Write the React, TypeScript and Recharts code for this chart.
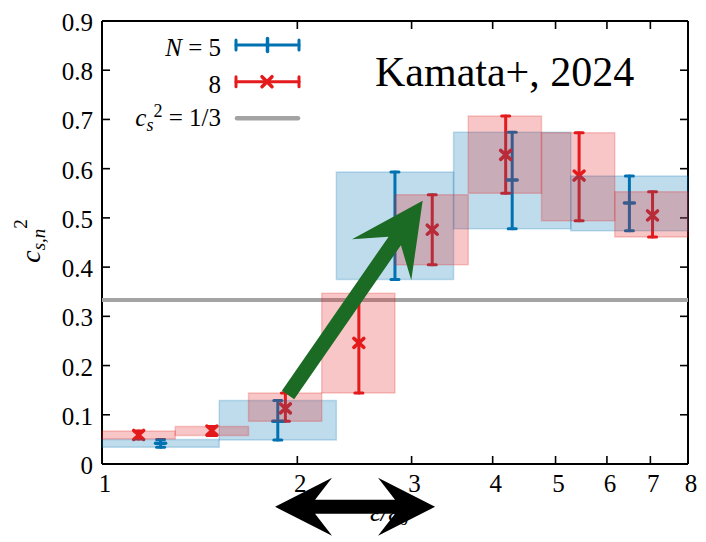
import React from 'react';
import {
  ComposedChart,
  XAxis,
  YAxis,
  Scatter,
  ErrorBar,
  ReferenceArea,
  ReferenceLine,
} from 'recharts';

// ---------- data ----------
const xTicks = [1, 2, 3, 4, 5, 6, 7, 8];
const yTicks = [0, 0.1, 0.2, 0.3, 0.4, 0.5, 0.6, 0.7, 0.8, 0.9];

// N = 5 (blue)
const blueEdges = [1, 1.516, 2.297, 3.482, 5.278, 8];
const blueX = [1.231, 1.866, 2.828, 4.287, 6.498];
const blueY = [0.042, 0.087, 0.485, 0.577, 0.53];
const blueLo = [0.034, 0.049, 0.375, 0.478, 0.474];
const blueHi = [0.05, 0.129, 0.593, 0.674, 0.585];

// N = 8 (red)
const redEdges = [1, 1.297, 1.682, 2.181, 2.828, 3.668, 4.757, 6.169, 8];
const redX = [1.139, 1.477, 1.917, 2.488, 3.228, 4.189, 5.436, 7.054];
const redY = [0.059, 0.068, 0.113, 0.246, 0.476, 0.628, 0.586, 0.505];
const redLo = [0.051, 0.058, 0.087, 0.144, 0.405, 0.55, 0.494, 0.461];
const redHi = [0.067, 0.076, 0.144, 0.347, 0.547, 0.707, 0.673, 0.553];

const conformal = 1 / 3;

// annotation arrows (data coordinates)
const greenArrow = [
  { x: 1.935, y: 0.14 },
  { x: 3.12, y: 0.535 },
];
const rangeArrow = [
  { x: 1.848, y: -0.087 },
  { x: 3.26, y: -0.087 },
];

// ---------- styling ----------
const BLUE = '#0072b2';
const RED = '#e41a1c';
const GRAY = '#a3a3a3';
const GREEN = '#1b6b24';
const FONT = "'Liberation Serif', 'Times New Roman', Times, serif";

const blueData = blueX.map((x, i) => ({
  x,
  y: blueY[i],
  err: [blueY[i] - blueLo[i], blueHi[i] - blueY[i]],
}));
const redData = redX.map((x, i) => ({
  x,
  y: redY[i],
  err: [redY[i] - redLo[i], redHi[i] - redY[i]],
}));

function pt(x1: number, y1: number, ux: number, uy: number, a: number, b: number) {
  const nx = -uy;
  const ny = ux;
  return `${x1 + ux * a + nx * b},${y1 + uy * a + ny * b}`;
}

const GreenArrowShape = (p: any) => {
  const { x1, y1, x2, y2 } = p;
  const dx = x2 - x1;
  const dy = y2 - y1;
  const L = Math.hypot(dx, dy);
  const ux = dx / L;
  const uy = dy / L;
  const hw = 7.5;
  const headLen = 72;
  const joinLen = 49;
  const headHw = 36;
  const pts = [
    pt(x1, y1, ux, uy, 0, hw),
    pt(x1, y1, ux, uy, L - joinLen, hw),
    pt(x1, y1, ux, uy, L - headLen, headHw),
    pt(x1, y1, ux, uy, L, 0),
    pt(x1, y1, ux, uy, L - headLen, -headHw),
    pt(x1, y1, ux, uy, L - joinLen, -hw),
    pt(x1, y1, ux, uy, 0, -hw),
  ].join(' ');
  return <polygon points={pts} fill={GREEN} stroke="none" />;
};

const DoubleArrowShape = (p: any) => {
  const { x1, y1, x2, y2 } = p;
  const dx = x2 - x1;
  const dy = y2 - y1;
  const L = Math.hypot(dx, dy);
  const ux = dx / L;
  const uy = dy / L;
  const hw = 7;
  const headLen = 57;
  const joinLen = 40;
  const headHw = 29;
  const pts = [
    pt(x1, y1, ux, uy, 0, 0),
    pt(x1, y1, ux, uy, headLen, headHw),
    pt(x1, y1, ux, uy, joinLen, hw),
    pt(x1, y1, ux, uy, L - joinLen, hw),
    pt(x1, y1, ux, uy, L - headLen, headHw),
    pt(x1, y1, ux, uy, L, 0),
    pt(x1, y1, ux, uy, L - headLen, -headHw),
    pt(x1, y1, ux, uy, L - joinLen, -hw),
    pt(x1, y1, ux, uy, joinLen, -hw),
    pt(x1, y1, ux, uy, headLen, -headHw),
  ].join(' ');
  return <polygon points={pts} fill="#000" stroke="none" />;
};

const BlueMarker = (p: any) => {
  const { cx, cy } = p;
  return (
    <line x1={cx - 5} y1={cy} x2={cx + 5} y2={cy} stroke={BLUE} strokeWidth={3.5} strokeLinecap="round" />
  );
};

const RedMarker = (p: any) => {
  const { cx, cy } = p;
  return (
    <g stroke={RED} strokeWidth={3.5} strokeLinecap="round">
      <line x1={cx - 5} y1={cy - 4.5} x2={cx + 5} y2={cy + 4.5} />
      <line x1={cx - 5} y1={cy + 4.5} x2={cx + 5} y2={cy - 4.5} />
    </g>
  );
};

const XTick = (p: any) => {
  const { x, y, payload } = p;
  return (
    <text x={x + 3} y={y + 16} textAnchor="middle" fontSize={25} fontFamily={FONT} fill="#000">
      {payload.value}
    </text>
  );
};

const YTick = (p: any) => {
  const { x, y, payload } = p;
  const v = payload.value;
  return (
    <text x={x} y={y + 10} textAnchor="end" fontSize={25} fontFamily={FONT} fill="#000">
      {v === 0 ? '0' : v.toFixed(1)}
    </text>
  );
};

const axisLineStyle = { stroke: '#000', strokeWidth: 2 };
const tickLineStyle = { stroke: '#000', strokeWidth: 1.6 };

const Underlay = () => (
  <svg width={706} height={542} style={{ position: 'absolute', left: 0, top: 0 }} fontFamily={FONT}>
    {/* title */}
    <text x={375} y={86} fontSize={42} fill="#000">
      Kamata+, 2024
    </text>
    {/* legend */}
    <text x={221} y={56} textAnchor="end" fontSize={25} fill="#000">
      <tspan fontStyle="italic">N</tspan>
      <tspan>{' = 5'}</tspan>
    </text>
    <g stroke={BLUE} strokeWidth={3} strokeLinecap="round">
      <line x1={236} y1={45} x2={299} y2={45} />
      <line x1={236} y1={40} x2={236} y2={50} />
      <line x1={299} y1={40} x2={299} y2={50} />
      <line x1={267.5} y1={38.5} x2={267.5} y2={51.5} strokeWidth={3.5} />
    </g>
    <text x={221} y={93} textAnchor="end" fontSize={25} fill="#000">
      8
    </text>
    <g stroke={RED} strokeWidth={3} strokeLinecap="round">
      <line x1={236} y1={81.7} x2={299} y2={81.7} />
      <line x1={236} y1={76.7} x2={236} y2={86.7} />
      <line x1={299} y1={76.7} x2={299} y2={86.7} />
      <line x1={262} y1={76.7} x2={272} y2={86.7} strokeWidth={3.5} />
      <line x1={262} y1={86.7} x2={272} y2={76.7} strokeWidth={3.5} />
    </g>
    <text x={221} y={126} textAnchor="end" fontSize={25} fill="#000">
      <tspan fontStyle="italic">c</tspan>
      <tspan fontStyle="italic" fontSize={18} dy={5}>s</tspan>
      <tspan fontSize={18} dy={-14}>2</tspan>
      <tspan dy={9}>{' = 1/3'}</tspan>
    </text>
    <line x1={237} y1={118.3} x2={298} y2={118.3} stroke={GRAY} strokeWidth={4.5} strokeLinecap="round" />
    {/* y label */}
    <text
      x={40}
      y={241}
      transform="rotate(-90 40 241)"
      textAnchor="middle"
      fontSize={28}
      fill="#000"
    >
      <tspan fontStyle="italic">c</tspan>
      <tspan fontStyle="italic" fontSize={19} dy={5}>s,n</tspan>
      <tspan fontSize={19} dy={-18}>2</tspan>
    </text>
    {/* x label */}
    <text x={370} y={521} fontSize={27} fill="#000">
      <tspan fontStyle="italic">ε/ε</tspan>
      <tspan fontSize={19} dy={4}>0</tspan>
    </text>
  </svg>
);

export default function App() {
  return (
    <div style={{ position: 'absolute', left: 0, top: 0, width: 706, height: 542, background: '#fff' }}>
      <Underlay />
      <div style={{ position: 'absolute', left: 0, top: 0 }}>
        <ComposedChart width={706} height={542} margin={{ top: 20, right: 17, bottom: 38, left: 42 }}>
          <XAxis
            xAxisId={0}
            dataKey="x"
            type="number"
            scale="log"
            domain={[1, 8]}
            allowDataOverflow
            ticks={xTicks}
            interval={0}
            height={40}
            tickSize={-8}
            tickMargin={20}
            axisLine={axisLineStyle}
            tickLine={tickLineStyle}
            tick={<XTick />}
          />
          <XAxis
            xAxisId="top"
            orientation="top"
            dataKey="x"
            type="number"
            scale="log"
            domain={[1, 8]}
            allowDataOverflow
            ticks={xTicks}
            interval={0}
            height={1}
            tickSize={-8}
            axisLine={axisLineStyle}
            tickLine={tickLineStyle}
            tickFormatter={() => ''}
          />
          <YAxis
            yAxisId={0}
            type="number"
            domain={[0, 0.9]}
            allowDataOverflow
            ticks={yTicks}
            interval={0}
            width={60}
            tickSize={-8}
            tickMargin={17}
            axisLine={axisLineStyle}
            tickLine={tickLineStyle}
            tick={<YTick />}
          />
          <YAxis
            yAxisId="right"
            orientation="right"
            type="number"
            domain={[0, 0.9]}
            allowDataOverflow
            ticks={yTicks}
            interval={0}
            width={1}
            tickSize={-8}
            axisLine={axisLineStyle}
            tickLine={tickLineStyle}
            tickFormatter={() => ''}
          />

          <Scatter data={redData} dataKey="y" shape={<RedMarker />} isAnimationActive={false}>
            <ErrorBar dataKey="err" direction="y" width={4} stroke={RED} strokeWidth={3} strokeLinecap="round" isAnimationActive={false} />
          </Scatter>
          <Scatter data={blueData} dataKey="y" shape={<BlueMarker />} isAnimationActive={false}>
            <ErrorBar dataKey="err" direction="y" width={4} stroke={BLUE} strokeWidth={3} strokeLinecap="round" isAnimationActive={false} />
          </Scatter>

          <ReferenceLine y={conformal} stroke={GRAY} strokeWidth={4} zIndex={640} ifOverflow="visible" />

          {blueLo.map((lo, i) => (
            <ReferenceArea
              key={`b${i}`}
              x1={blueEdges[i]}
              x2={blueEdges[i + 1]}
              y1={lo}
              y2={blueHi[i]}
              fill={BLUE}
              fillOpacity={0.25}
              stroke={BLUE}
              strokeOpacity={0.22}
              strokeWidth={1.5}
              zIndex={650}
              ifOverflow="visible"
            />
          ))}
          {redLo.map((lo, i) => (
            <ReferenceArea
              key={`r${i}`}
              x1={redEdges[i]}
              x2={redEdges[i + 1]}
              y1={lo}
              y2={redHi[i]}
              fill={RED}
              fillOpacity={0.25}
              stroke={RED}
              strokeOpacity={0.22}
              strokeWidth={1.5}
              zIndex={660}
              ifOverflow="visible"
            />
          ))}

          <ReferenceLine segment={greenArrow} ifOverflow="visible" zIndex={680} shape={GreenArrowShape} />
          <ReferenceLine segment={rangeArrow} ifOverflow="visible" zIndex={2500} shape={DoubleArrowShape} />
        </ComposedChart>
      </div>
    </div>
  );
}
